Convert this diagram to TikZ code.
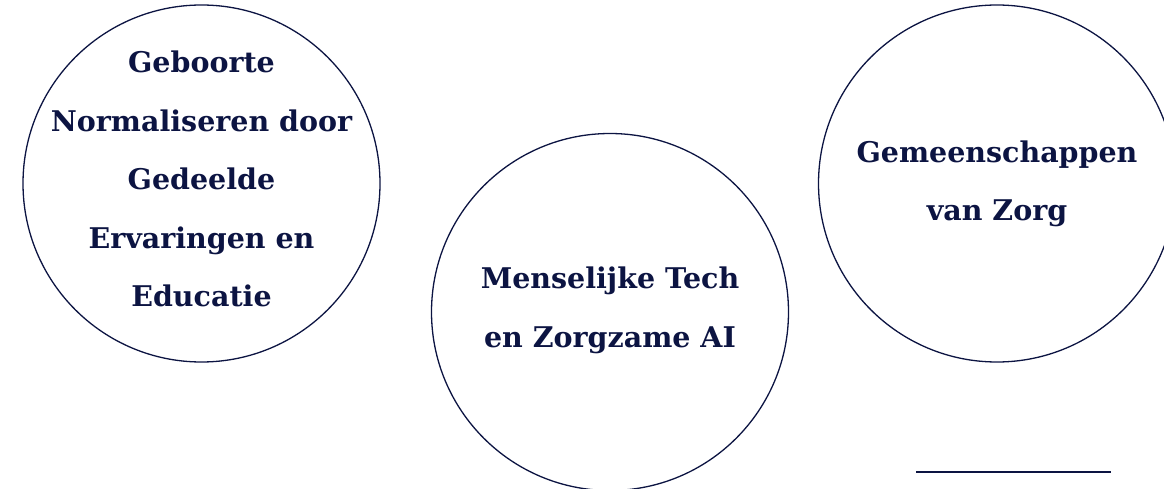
\documentclass[tikz,border=0pt]{standalone}
\usepackage{fontspec}
\setmainfont{DejaVu Serif}
\definecolor{navy}{HTML}{0C1442}
\begin{document}
\begin{tikzpicture}[x=1pt, y=1pt]
            \tikzstyle{ring}=[circle, draw=navy, line width=1.3pt, minimum size=357pt, inner sep=0pt]
            \tikzstyle{caption}=[navy, align=center, inner sep=0pt, font=\bfseries\fontsize{28.5}{58.5}\selectfont]
            \useasboundingbox (0, 0) rectangle (1164, 488);
            \clip (0, 0) rectangle (1164, 488);
            \node [ring] (geboorte) at (201.5, 304.5) {};
            \node [ring] (tech) at (610, 176) {};
            \node [ring] (zorg) at (997, 304.5) {};
            \node [caption] (geboorte text) at ([yshift=4.5pt] geboorte.center) {Geboorte\\Normaliseren door\\Gedeelde\\Ervaringen en\\Educatie};
            \node [caption] (tech text) at ([yshift=1.5pt] tech.center) {Menselijke Tech\\en Zorgzame AI};
            \node [caption] (zorg text) at ([yshift=-0.5pt] zorg.center) {Gemeenschappen\\van Zorg};
            \coordinate (rule start) at (916, 16);
            \coordinate (rule end) at (1111, 16);
            \draw [navy, line width=2pt] (rule start) -- (rule end);
        \end{tikzpicture}
\end{document}
